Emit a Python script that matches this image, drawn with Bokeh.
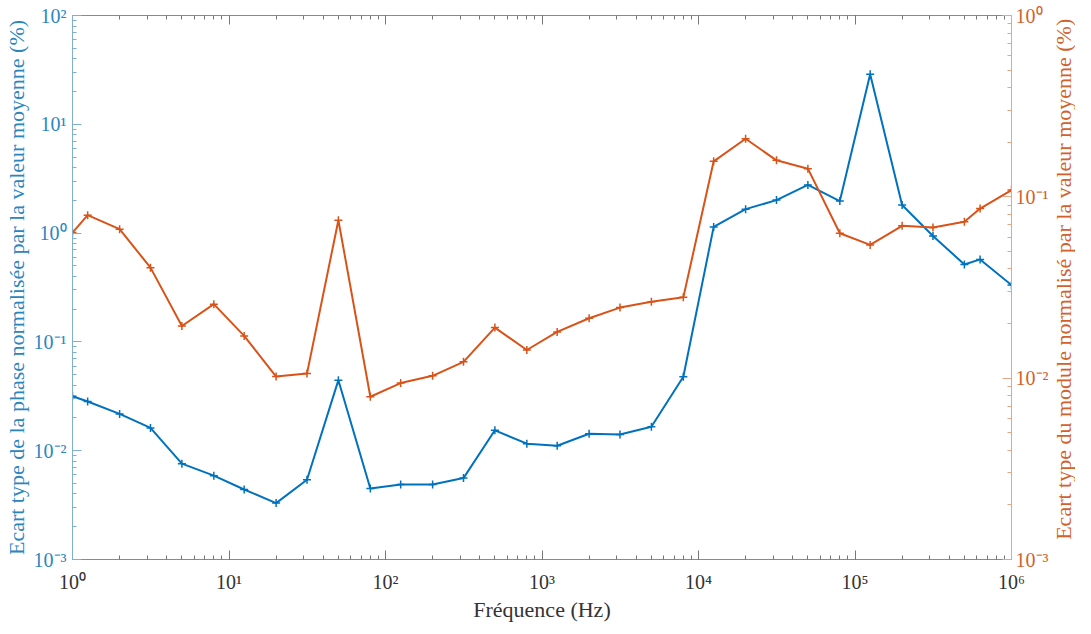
import math
from bokeh.plotting import figure
from bokeh.layouts import row
from bokeh.models import (LogAxis, LogScale, Range1d, CustomJSTickFormatter, LogTicker)
from bokeh.core.properties import value
from bokeh.embed import file_html
from bokeh.resources import INLINE

# Frequencies (Hz)
freq = [1, 1.25, 2, 3.15, 5, 8, 12.5, 20, 31.5, 50, 80, 125, 200, 315, 500, 800,
        1250, 2000, 3150, 5000, 8000, 12500, 20000, 31500, 50000, 80000,
        125000, 200000, 315000, 500000, 630000, 1000000]

# Phase std (%) - left axis
phase_std = [0.0317, 0.0283, 0.0218, 0.0162, 0.0076, 0.0059, 0.0044, 0.0033,
             0.0054, 0.0445, 0.0045, 0.0049, 0.0049, 0.0056, 0.0154, 0.0116,
             0.0111, 0.0143, 0.0141, 0.0166, 0.0478, 1.14, 1.66, 2.01, 2.77,
             1.97, 28.8, 1.81, 0.94, 0.515, 0.573, 0.333]

# Module std (%) - right axis
module_std = [0.0635, 0.0792, 0.0663, 0.0407, 0.0194, 0.0256, 0.0171, 0.0102,
              0.0106, 0.0743, 0.0079, 0.0094, 0.0103, 0.0123, 0.0190, 0.0143,
              0.0180, 0.0214, 0.0245, 0.0264, 0.0279, 0.157, 0.209, 0.159,
              0.143, 0.0630, 0.0543, 0.0692, 0.0677, 0.0728, 0.0862, 0.109]

x_label = "Fréquence (Hz)"
left_label = "Ecart type de la phase normalisée par la valeur moyenne (%)"
right_label = "Ecart type du module normalisé par la valeur moyenne (%)"

BLUE = "#0072BD"
ORANGE = "#D95319"
FONT = "Liberation Serif"
H = 618
FW, FH = 939, 544
TOP, LEFT, RIGHT = 15, 69, 40
BOTTOM = H - TOP - FH

fmt_code = """
const e = Math.round(Math.log10(tick));
const sup = {'-':'\u207b','0':'\u2070','1':'\u00b9','2':'\u00b2','3':'\u00b3','4':'\u2074','5':'\u2075','6':'\u2076','7':'\u2077','8':'\u2078','9':'\u2079'};
return '10' + String(e).split('').map(c => sup[c]).join('');
"""

p = figure(frame_width=FW, frame_height=FH, x_axis_type="log", y_axis_type="log",
           x_range=Range1d(1, 1e6), y_range=Range1d(1e-3, 1e2),
           output_backend="svg", toolbar_location=None,
           min_border_left=LEFT, min_border_right=RIGHT, min_border_top=TOP,
           min_border_bottom=BOTTOM)
p.outline_line_color = None
p.grid.visible = False
p.background_fill_color = "white"

p.extra_y_ranges = {"right": Range1d(1e-3, 1e0)}
p.extra_y_scales = {"right": LogScale()}

p.line(freq, phase_std, line_color=BLUE, line_width=2)
p.scatter(freq, phase_std, marker="cross", size=8, line_color=BLUE, line_width=1.5)
p.line(freq, module_std, line_color=ORANGE, line_width=2, y_range_name="right")
p.scatter(freq, module_std, marker="cross", size=8, line_color=ORANGE, line_width=1.5,
          y_range_name="right")

def style(ax, color, label_color, tick_color):
    ax.formatter = CustomJSTickFormatter(code=fmt_code)
    ax.axis_line_color = color
    ax.major_tick_line_color = tick_color
    ax.minor_tick_line_color = tick_color
    ax.major_tick_in = 9
    ax.major_tick_out = 0
    ax.minor_tick_in = 4
    ax.minor_tick_out = 0
    ax.major_label_text_font = FONT
    ax.major_label_text_font_size = "20px"
    ax.major_label_text_color = label_color
    ax.axis_label_text_font = FONT
    ax.axis_label_text_font_size = "22px"
    ax.axis_label_text_font_style = "normal"
    ax.axis_label_text_color = label_color

ax_b = p.xaxis[0]
ax_b.ticker = LogTicker(num_minor_ticks=10)
style(ax_b, "#8a8a8a", "#333333", "#777777")
ax_b.axis_label = x_label
ax_b.major_label_standoff = 11
ax_b.axis_label_standoff = 1

ax_l = p.yaxis[0]
ax_l.ticker = LogTicker(num_minor_ticks=10)
style(ax_l, "#7fb0d0", "#2a86bf", "#7fb0d0")
ax_l.axis_label = left_label
ax_l.major_label_standoff = 6
ax_l.axis_label_standoff = 2

ax_r = LogAxis(y_range_name="right", ticker=LogTicker(num_minor_ticks=10))
style(ax_r, "#e3a888", "#d2622c", "#e3a888")
ax_r.major_label_standoff = 4
p.add_layout(ax_r, "right")

ax_t = LogAxis(ticker=LogTicker(num_minor_ticks=10))
style(ax_t, "#8a8a8a", "#333333", "#777777")
ax_t.formatter = CustomJSTickFormatter(code="return '';")
ax_t.major_label_standoff = 0
p.add_layout(ax_t, "above")

# Narrow side panel carrying the right axis title (reads bottom to top)
QW = 24
q = figure(width=QW, height=H, x_range=Range1d(0, 1), y_range=Range1d(0, 1),
           output_backend="svg", toolbar_location=None,
           min_border_left=0, min_border_right=0, min_border_top=0, min_border_bottom=0)
q.axis.visible = False
q.grid.visible = False
q.outline_line_color = None
q.text(x=[0.5], y=[1 - (TOP + FH / 2 + 16) / H], text=[right_label], angle=math.pi / 2,
       text_font=value(FONT), text_font_size="22px", text_color="#d2622c",
       text_align="center", text_baseline="middle")

layout = row(p, q)
open("out.html", "w").write(file_html(layout, INLINE))
